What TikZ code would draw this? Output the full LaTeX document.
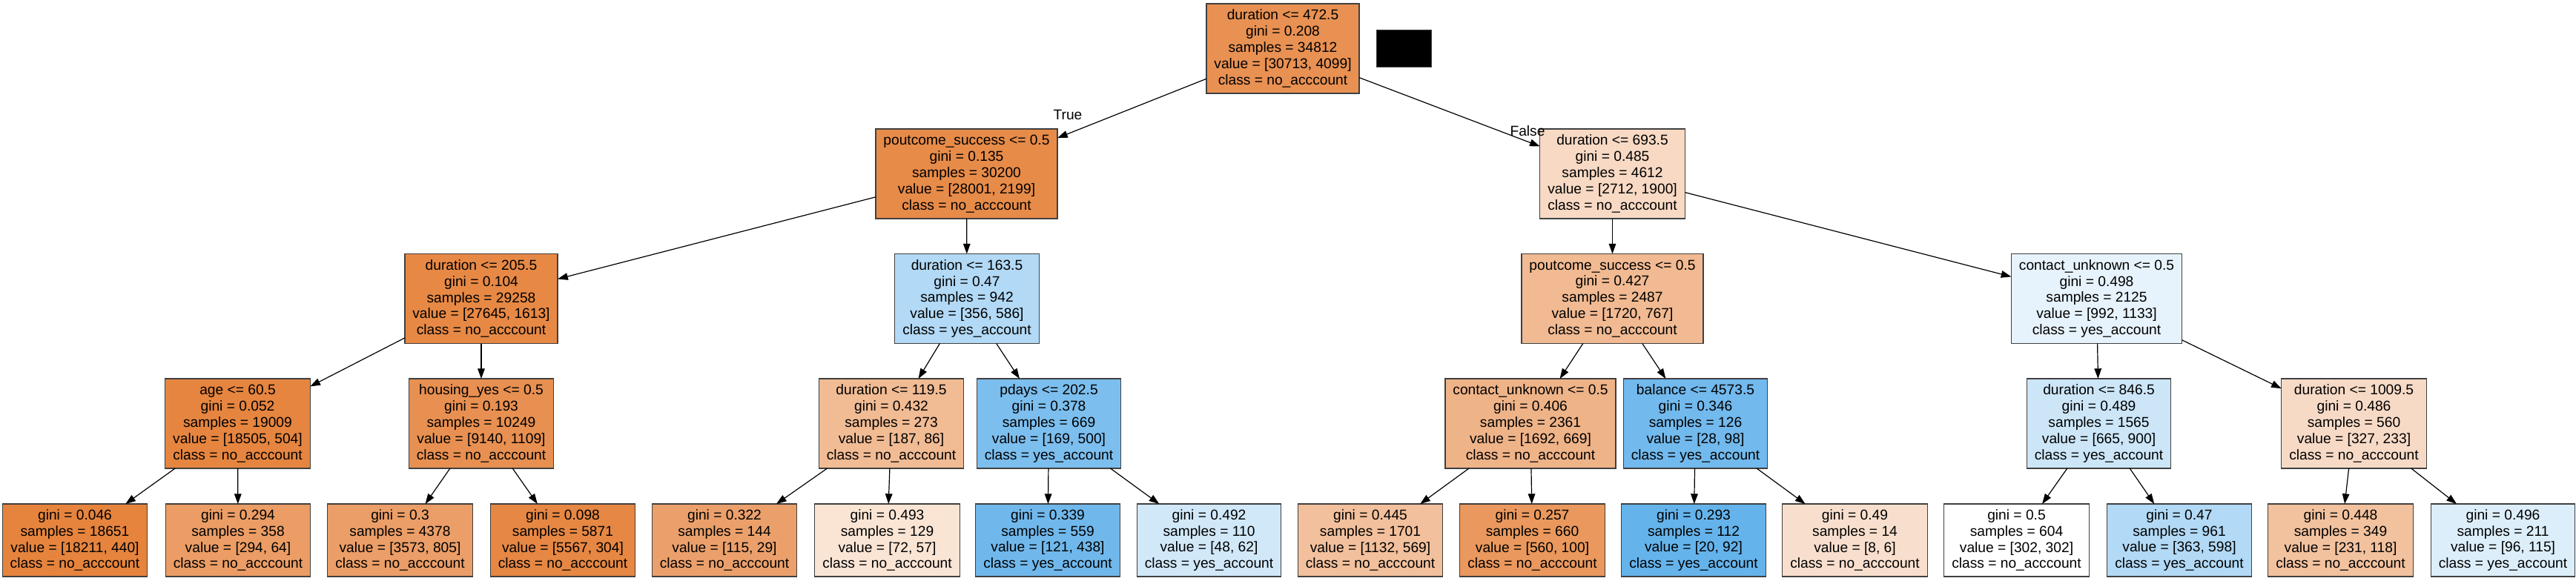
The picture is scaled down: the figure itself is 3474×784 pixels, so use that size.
\documentclass[tikz,border=0pt]{standalone}
\usepackage{fontspec}
\setmainfont{Liberation Sans}
\usetikzlibrary{arrows.meta}
\definecolor{noacc}{RGB}{229,129,57}
\definecolor{yesacc}{RGB}{57,157,229}
\definecolor{boxline}{RGB}{64,64,64}
\begin{document}
\begin{tikzpicture}[x=1pt,y=-1pt,
  treebox/.style={draw=boxline, line width=1.3pt, rectangle, align=center, inner xsep=10.5pt, inner ysep=0pt, outer sep=0pt, font=\fontsize{19.2pt}{21.9pt}\selectfont},
  innerbox/.style={treebox, minimum height=121pt},
  leafbox/.style={treebox, minimum height=98pt},
  arrowline/.style={draw=black, line width=1.2pt, -{Triangle[length=13.7pt,width=9.6pt]}},
  elabel/.style={font=\fontsize{19.2pt}{21.9pt}\selectfont, inner sep=0pt}
]
\useasboundingbox (0,0) rectangle (3474,784);
% level 0
\node[innerbox, fill=noacc!87!white] (root) at (1730,65.5) {duration <= 472.5\\gini = 0.208\\samples = 34812\\value = [30713, 4099]\\class = no\_acccount};
\node[fill=black, draw=boxline, line width=1pt, minimum width=74pt, minimum height=49pt, inner sep=0pt] (redact) at (1893,65.5) {};
% level 1
\node[innerbox, fill=noacc!92!white] (n1) at (1303.5,234.5) {poutcome\_success <= 0.5\\gini = 0.135\\samples = 30200\\value = [28001, 2199]\\class = no\_acccount};
\node[innerbox, fill=noacc!30!white] (n2) at (2174.5,234.5) {duration <= 693.5\\gini = 0.485\\samples = 4612\\value = [2712, 1900]\\class = no\_acccount};
% level 2
\node[innerbox, fill=noacc!94!white] (n3) at (649,403) {duration <= 205.5\\gini = 0.104\\samples = 29258\\value = [27645, 1613]\\class = no\_acccount};
\node[innerbox, fill=yesacc!39!white] (n4) at (1304,403) {duration <= 163.5\\gini = 0.47\\samples = 942\\value = [356, 586]\\class = yes\_account};
\node[innerbox, fill=noacc!55!white] (n5) at (2174.5,403) {poutcome\_success <= 0.5\\gini = 0.427\\samples = 2487\\value = [1720, 767]\\class = no\_acccount};
\node[innerbox, fill=yesacc!12!white] (n6) at (2827.5,403) {contact\_unknown <= 0.5\\gini = 0.498\\samples = 2125\\value = [992, 1133]\\class = yes\_account};
% level 3
\node[innerbox, fill=noacc!97!white] (n7) at (320.5,571.5) {age <= 60.5\\gini = 0.052\\samples = 19009\\value = [18505, 504]\\class = no\_acccount};
\node[innerbox, fill=noacc!88!white] (n8) at (649,571.5) {housing\_yes <= 0.5\\gini = 0.193\\samples = 10249\\value = [9140, 1109]\\class = no\_acccount};
\node[innerbox, fill=noacc!54!white] (n9) at (1202,571.5) {duration <= 119.5\\gini = 0.432\\samples = 273\\value = [187, 86]\\class = no\_acccount};
\node[innerbox, fill=yesacc!66!white] (n10) at (1414.5,571.5) {pdays <= 202.5\\gini = 0.378\\samples = 669\\value = [169, 500]\\class = yes\_account};
\node[innerbox, fill=noacc!60!white] (n11) at (2064,571.5) {contact\_unknown <= 0.5\\gini = 0.406\\samples = 2361\\value = [1692, 669]\\class = no\_acccount};
\node[innerbox, fill=yesacc!71!white] (n12) at (2286.5,571.5) {balance <= 4573.5\\gini = 0.346\\samples = 126\\value = [28, 98]\\class = yes\_account};
\node[innerbox, fill=yesacc!26!white] (n13) at (2830.5,571.5) {duration <= 846.5\\gini = 0.489\\samples = 1565\\value = [665, 900]\\class = yes\_account};
\node[innerbox, fill=noacc!29!white] (n14) at (3174.5,571.5) {duration <= 1009.5\\gini = 0.486\\samples = 560\\value = [327, 233]\\class = no\_acccount};
% leaves
\node[leafbox, fill=noacc!98!white] (l1) at (101,729) {gini = 0.046\\samples = 18651\\value = [18211, 440]\\class = no\_acccount};
\node[leafbox, fill=noacc!78!white] (l2) at (321,729) {gini = 0.294\\samples = 358\\value = [294, 64]\\class = no\_acccount};
\node[leafbox, fill=noacc!77!white] (l3) at (539.5,729) {gini = 0.3\\samples = 4378\\value = [3573, 805]\\class = no\_acccount};
\node[leafbox, fill=noacc!95!white] (l4) at (759,729) {gini = 0.098\\samples = 5871\\value = [5567, 304]\\class = no\_acccount};
\node[leafbox, fill=noacc!75!white] (l5) at (977,729) {gini = 0.322\\samples = 144\\value = [115, 29]\\class = no\_acccount};
\node[leafbox, fill=noacc!21!white] (l6) at (1196.5,729) {gini = 0.493\\samples = 129\\value = [72, 57]\\class = no\_acccount};
\node[leafbox, fill=yesacc!72!white] (l7) at (1413,729) {gini = 0.339\\samples = 559\\value = [121, 438]\\class = yes\_account};
\node[leafbox, fill=yesacc!23!white] (l8) at (1630.5,729) {gini = 0.492\\samples = 110\\value = [48, 62]\\class = yes\_account};
\node[leafbox, fill=noacc!50!white] (l9) at (1848,729) {gini = 0.445\\samples = 1701\\value = [1132, 569]\\class = no\_acccount};
\node[leafbox, fill=noacc!82!white] (l10) at (2066.5,729) {gini = 0.257\\samples = 660\\value = [560, 100]\\class = no\_acccount};
\node[leafbox, fill=yesacc!78!white] (l11) at (2284,729) {gini = 0.293\\samples = 112\\value = [20, 92]\\class = yes\_account};
\node[leafbox, fill=noacc!25!white] (l12) at (2501.5,729) {gini = 0.49\\samples = 14\\value = [8, 6]\\class = no\_acccount};
\node[leafbox, fill=white] (l13) at (2719.5,729) {gini = 0.5\\samples = 604\\value = [302, 302]\\class = no\_acccount};
\node[leafbox, fill=yesacc!39!white] (l14) at (2939,729) {gini = 0.47\\samples = 961\\value = [363, 598]\\class = yes\_account};
\node[leafbox, fill=noacc!49!white] (l15) at (3156.5,729) {gini = 0.448\\samples = 349\\value = [231, 118]\\class = no\_acccount};
\node[leafbox, fill=yesacc!17!white] (l16) at (3375.5,729) {gini = 0.496\\samples = 211\\value = [96, 115]\\class = yes\_account};
% edge labels
\node[elabel] (ltrue) at (1440,155) {True};
\node[elabel] (lfalse) at (2060,177) {False};
% edges
\foreach \a/\b in {root/n1, root/n2, n1/n3, n1/n4, n2/n5, n2/n6, n3/n7, n3/n8, n4/n9, n4/n10, n5/n11, n5/n12, n6/n13, n6/n14, n7/l1, n7/l2, n8/l3, n8/l4, n9/l5, n9/l6, n10/l7, n10/l8, n11/l9, n11/l10, n12/l11, n12/l12, n13/l13, n13/l14, n14/l15, n14/l16}
  \draw[arrowline] (\a) -- (\b);
\end{tikzpicture}
\end{document}
